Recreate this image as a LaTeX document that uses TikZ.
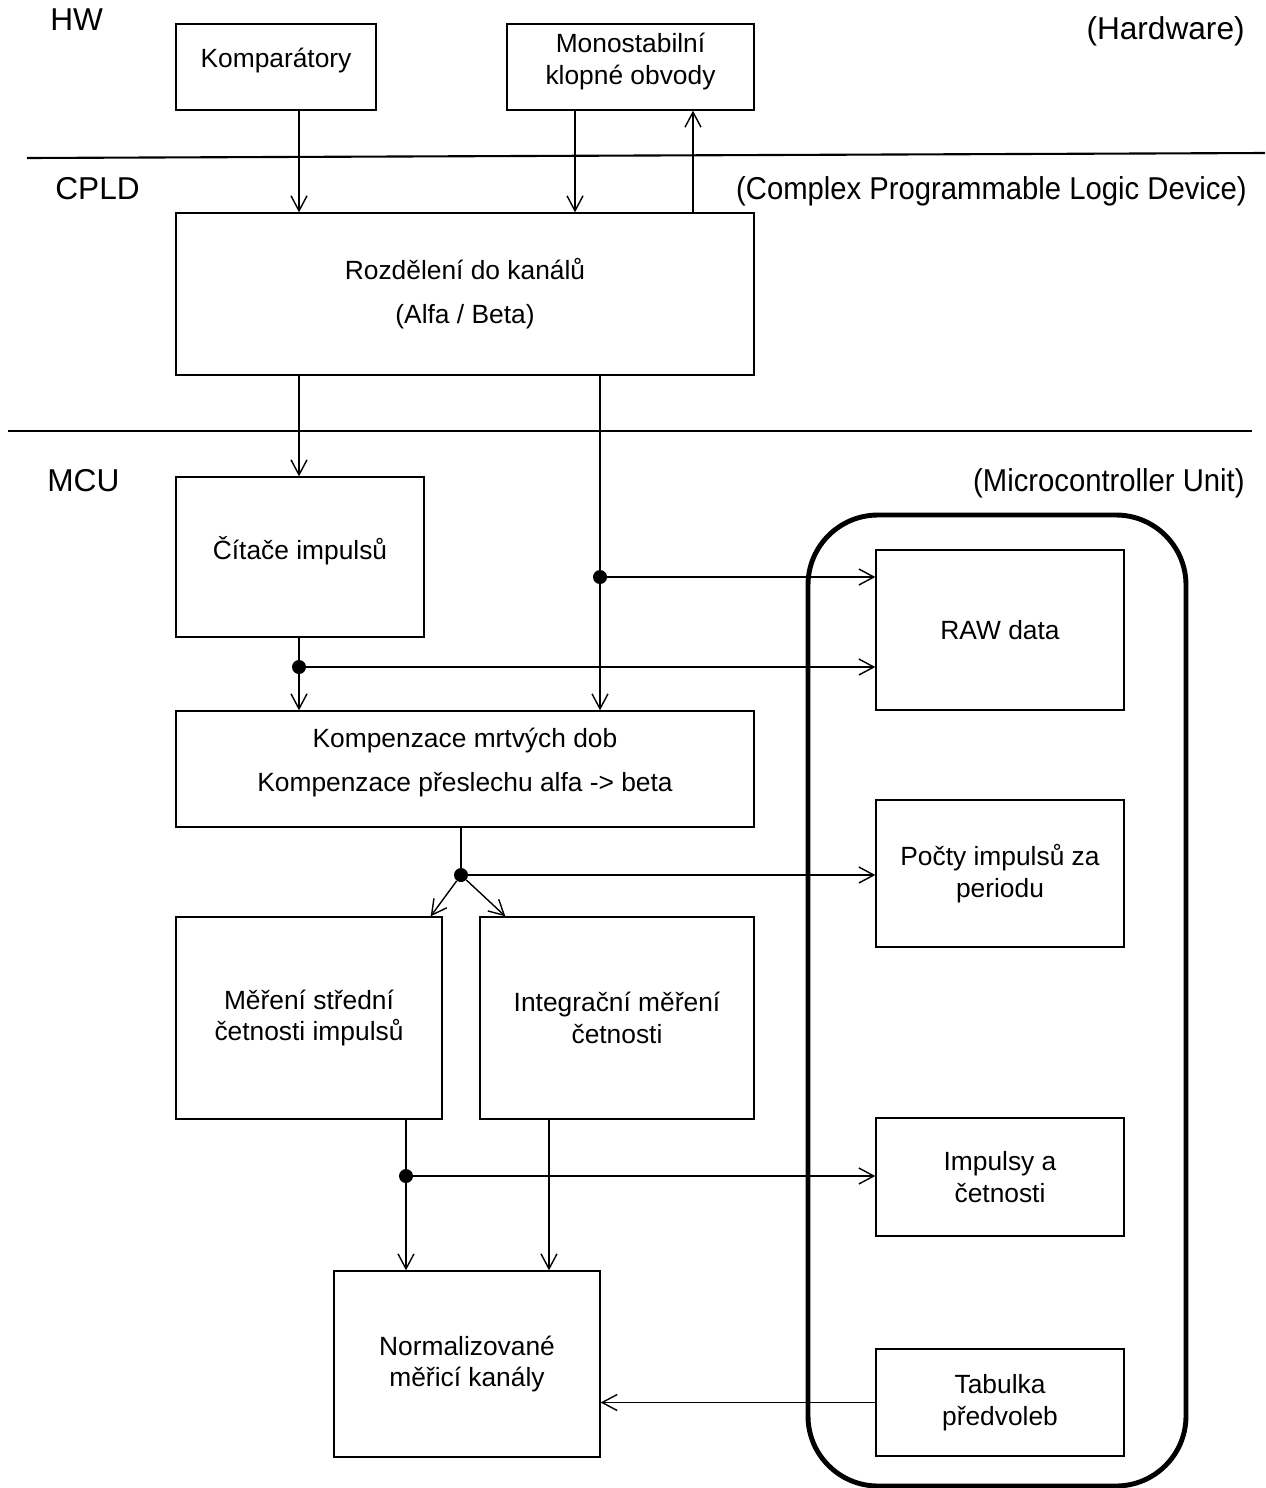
\documentclass[tikz,border=0pt]{standalone}
\usepackage{fontspec}
\setmainfont{Liberation Sans}
\usepackage{tikz}
\usetikzlibrary{arrows.meta, positioning}

\tikzset{
    box/.style={draw, rectangle, line width=0.8pt, align=center, inner sep=0pt,
        font=\fontsize{15pt}{18pt}\selectfont},
    arr/.style={line width=0.8pt, -{Straight Barb[length=3mm, width=3.2mm, line width=0.8pt]}},
    dot/.style={circle, fill, inner sep=0pt, minimum size=0.28cm},
    sep/.style={line width=1.2pt},
    tag/.style={font=\fontsize{18pt}{21pt}\selectfont, inner sep=0pt}
}
\newcommand{\narrow}[1]{\scalebox{0.925}[1]{#1}}

\begin{document}
\begin{tikzpicture}[x=0.02cm, y=-0.02cm]
    \useasboundingbox (0,0) rectangle (1265,1488);

    % Layers
    \draw[sep] (27,158) -- (1265,153);
    \draw[sep] (8,431) -- (1252,431);
    \node[tag, anchor=west] (hw) at (50,20) {HW};
    \node[tag, anchor=west] (cpld) at (55,189) {CPLD};
    \node[tag, anchor=west] (mcu) at (47,481) {MCU};
    \node[tag, anchor=east] (hwtxt) at (1245,31) {(Hardware)};
    \node[tag, anchor=east] (cpldtxt) at (1247,191) {\narrow{(Complex Programmable Logic Device)}};
    \node[tag, anchor=east] (mcutxt) at (1245,483) {\narrow{(Microcontroller Unit)}};

    % Memory block
    \draw[line width=2.8pt, rounded corners=1.4cm] (808,515) rectangle (1186,1486);

    % Boxes
    \node[box, text depth=11pt, minimum width=4cm, minimum height=1.72cm] (komp) at (276,67) {Komparátory};
    \node[box, text depth=9pt, minimum width=4.94cm, minimum height=1.72cm] (mono) at (630.5,67) {Monostabilní\\klopné obvody};
    \node[box, minimum width=11.56cm, minimum height=3.24cm] (rozd) at (465,294) {Rozdělení do kanálů\\[7pt](Alfa / Beta)};
    \node[box, text depth=10pt, minimum width=4.96cm, minimum height=3.2cm] (cit) at (300,557) {Čítače impulsů};
    \node[box, text depth=11pt, minimum width=11.56cm, minimum height=2.32cm] (kmp) at (465,769) {Kompenzace mrtvých dob\\[7pt]Kompenzace přeslechu alfa -> beta};
    \node[box, minimum width=5.32cm, minimum height=4.04cm] (mer) at (309,1018) {Měření střední\\četnosti impulsů};
    \node[box, minimum width=5.48cm, minimum height=4.04cm] (int) at (617,1018) {Integrační měření\\četnosti};
    \node[box, minimum width=5.32cm, minimum height=3.72cm] (norm) at (467,1364) {Normalizované\\měřicí kanály};
    \node[box, minimum width=4.96cm, minimum height=3.2cm] (raw) at (1000,630) {RAW data};
    \node[box, minimum width=4.96cm, minimum height=2.94cm] (poc) at (1000,873.5) {Počty impulsů za\\periodu};
    \node[box, minimum width=4.96cm, minimum height=2.36cm] (imp) at (1000,1177) {Impulsy a\\četnosti};
    \node[box, minimum width=4.96cm, minimum height=2.14cm] (tab) at (1000,1402.5) {Tabulka\\předvoleb};

    % Lanes
    \coordinate (xa) at (299,0);
    \coordinate (xb) at (575,0);
    \coordinate (xc) at (693,0);
    \coordinate (xd) at (600,0);
    \coordinate (xg) at (549,0);

    % Junctions
    \node[dot] (j1) at (600,577) {};
    \node[dot] (j2) at (299,667) {};
    \node[dot] (j3) at (461,875) {};
    \node[dot] (j4) at (406,1176) {};

    % Signals
    \draw[arr] (komp.south -| xa) -- (rozd.north -| xa);
    \draw[arr] (mono.south -| xb) -- (rozd.north -| xb);
    \draw[arr] (rozd.north -| xc) -- (mono.south -| xc);
    \draw[arr] (rozd.south -| xa) -- (cit.north -| xa);
    \draw[arr] (rozd.south -| xd) -- (kmp.north -| xd);
    \draw[arr] (j1) -- (raw.west |- j1);
    \draw[arr] (cit.south -| xa) -- (kmp.north -| xa);
    \draw[arr] (j2) -- (raw.west |- j2);
    \draw[line width=0.8pt] (kmp.south -| j3) -- (j3);
    \draw[arr] (j3) -- ([xshift=-0.24cm]mer.north east);
    \draw[arr] (j3) -- ([xshift=0.52cm]int.north west);
    \draw[arr] (j3) -- (poc.west |- j3);
    \draw[arr] (mer.south -| j4) -- (norm.north -| j4);
    \draw[arr] (j4) -- (imp.west |- j4);
    \draw[arr] (int.south -| xg) -- (norm.north -| xg);
    \draw[arr] (tab.west) -- (norm.east |- tab.west);
\end{tikzpicture}
\end{document}
